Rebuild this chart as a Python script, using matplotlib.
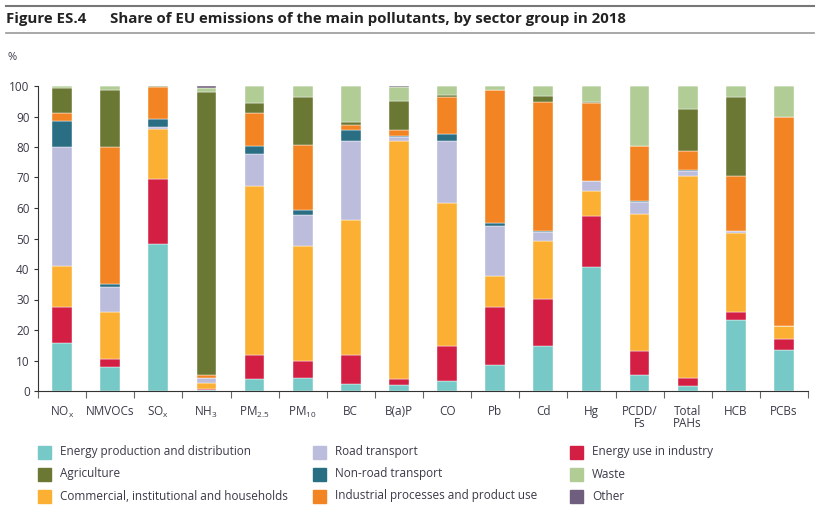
import numpy as np
import matplotlib
matplotlib.use('Agg')
import matplotlib.pyplot as plt
from matplotlib.patches import Rectangle
from matplotlib.lines import Line2D

plt.rcParams['font.family'] = ['Open Sans', 'DejaVu Sans']
plt.rcParams['mathtext.fontset'] = 'custom'
plt.rcParams['mathtext.rm'] = 'Open Sans'
plt.rcParams['mathtext.it'] = 'Open Sans'

# pollutants (x categories)
pollutants = ['NO$_\\mathrm{x}$', 'NMVOCs', 'SO$_\\mathrm{x}$', 'NH$_\\mathrm{3}$',
              'PM$_\\mathrm{2.5}$', 'PM$_\\mathrm{10}$', 'BC', 'B(a)P', 'CO', 'Pb',
              'Cd', 'Hg', 'PCDD/\nFs', 'Total\nPAHs', 'HCB', 'PCBs']

# shares (%) per sector, bottom to top of each bar
energy_prod = [15.6, 8.0, 48.3, 0.2, 3.8, 4.4, 2.2, 2.0, 3.4, 8.4, 14.8, 40.8, 5.2, 1.5, 23.2, 13.6]
energy_ind = [11.8, 2.4, 21.3, 0.4, 8.0, 5.5, 9.6, 1.9, 11.2, 19.1, 15.5, 16.7, 8.0, 2.8, 2.6, 3.4]
commercial = [13.5, 15.6, 16.4, 2.1, 55.3, 37.6, 44.3, 78.1, 47.2, 10.2, 18.8, 8.0, 44.7, 66.1, 26.0, 4.4]
road = [39.0, 8.1, 0.4, 1.4, 10.7, 10.2, 25.8, 1.4, 20.2, 16.5, 3.0, 3.2, 4.0, 1.8, 0.5, 0.0]
non_road = [8.6, 1.0, 2.8, 0.1, 2.4, 1.8, 3.8, 0.1, 2.3, 0.9, 0.2, 0.3, 0.4, 0.1, 0.1, 0.0]
industrial = [2.8, 44.9, 10.6, 1.1, 10.9, 21.1, 1.5, 2.1, 12.0, 43.6, 42.5, 25.3, 17.9, 6.4, 18.2, 68.5]
agriculture = [8.2, 18.7, 0.1, 92.8, 3.4, 15.9, 1.0, 9.6, 0.9, 0.1, 2.0, 0.4, 0.2, 13.8, 25.9, 0.0]
waste = [0.5, 1.3, 0.1, 1.4, 5.5, 3.5, 11.8, 4.6, 2.8, 1.2, 3.2, 5.3, 19.6, 7.5, 3.5, 10.1]
other = [0.0, 0.0, 0.0, 0.5, 0.0, 0.0, 0.0, 0.2, 0.0, 0.0, 0.0, 0.0, 0.0, 0.0, 0.0, 0.0]

sectors = [
    ('Energy production and distribution', energy_prod, '#76c9c7'),
    ('Energy use in industry', energy_ind, '#d41f45'),
    ('Commercial, institutional and households', commercial, '#fbb033'),
    ('Road transport', road, '#bcbcdc'),
    ('Non-road transport', non_road, '#2a6e84'),
    ('Industrial processes and product use', industrial, '#f38423'),
    ('Agriculture', agriculture, '#6b7834'),
    ('Waste', waste, '#b2cc96'),
    ('Other', other, '#6f5e7d'),
]

fig = plt.figure(figsize=(8.22, 5.13), dpi=100)
W, H = 822, 513
ax = fig.add_axes([38 / W, 1 - 391 / H, 770 / W, 305 / H])

x = np.arange(len(pollutants))
bottom = np.zeros(len(pollutants))
for name, vals, col in sectors:
    vals = np.array(vals)
    ax.bar(x, vals, width=0.41, bottom=bottom, color=col,
           edgecolor='#ffffff', linewidth=0.3)
    bottom += vals

txt = '#3a3a48'
ax.set_xlim(-0.5, len(pollutants) - 0.5)
ax.set_ylim(0, 100)
ax.set_yticks(range(0, 101, 10))
ax.set_xticks(x)
ax.set_xticklabels(pollutants, fontsize=8.5, color=txt, linespacing=0.9)
ax.set_xticks(np.arange(-0.5, len(pollutants)), minor=True)
ax.tick_params(axis='x', which='major', length=0, pad=10)
ax.tick_params(axis='x', which='minor', length=5, color='#666666', width=0.8)
ax.tick_params(axis='y', length=3, color='#333333', width=0.8, labelsize=8.5,
               labelcolor=txt, pad=3)
for s in ['top', 'right']:
    ax.spines[s].set_visible(False)
ax.spines['left'].set_color('#333333')
ax.spines['bottom'].set_color('#333333')
ax.spines['left'].set_linewidth(0.8)
ax.spines['bottom'].set_linewidth(0.8)

# title block
fig.add_artist(Line2D([6 / W, 814 / W], [1 - 5.5 / H, 1 - 5.5 / H], color='#777777', lw=1.5))
fig.add_artist(Line2D([6 / W, 814 / W], [1 - 33 / H, 1 - 33 / H], color='#999999', lw=1.2))
fig.text(6 / W, 1 - 19 / H, 'Figure ES.4', fontsize=10.8, fontweight='bold',
         color='#222222', va='center', family=['Liberation Sans Narrow', 'Open Sans'])
fig.text(110 / W, 1 - 19 / H, 'Share of EU emissions of the main pollutants, by sector group in 2018',
         fontsize=10.8, fontweight='bold', color='#222222', va='center',
         family=['Liberation Sans Narrow', 'Open Sans'])
fig.text(7 / W, 1 - 58 / H, '%', fontsize=8, color=txt, va='center')

# legend in three columns
legend_order = [
    ('Energy production and distribution', 0, 0), ('Agriculture', 0, 1),
    ('Commercial, institutional and households', 0, 2),
    ('Road transport', 1, 0), ('Non-road transport', 1, 1),
    ('Industrial processes and product use', 1, 2),
    ('Energy use in industry', 2, 0), ('Waste', 2, 1), ('Other', 2, 2),
]
colours = {n: c for n, _, c in sectors}
col_x = [38, 313, 570]
row_y = [452, 474, 496]
for name, ci, ri in legend_order:
    x0 = col_x[ci]
    y0 = row_y[ri]
    fig.add_artist(Rectangle((x0 / W, 1 - (y0 + 6.5) / H), 13 / W, 13 / H,
                             color=colours[name], transform=fig.transFigure))
    fig.text((x0 + 22) / W, 1 - y0 / H, name, fontsize=8.5, color=txt, va='center')

fig.savefig('out.png', dpi=100)
